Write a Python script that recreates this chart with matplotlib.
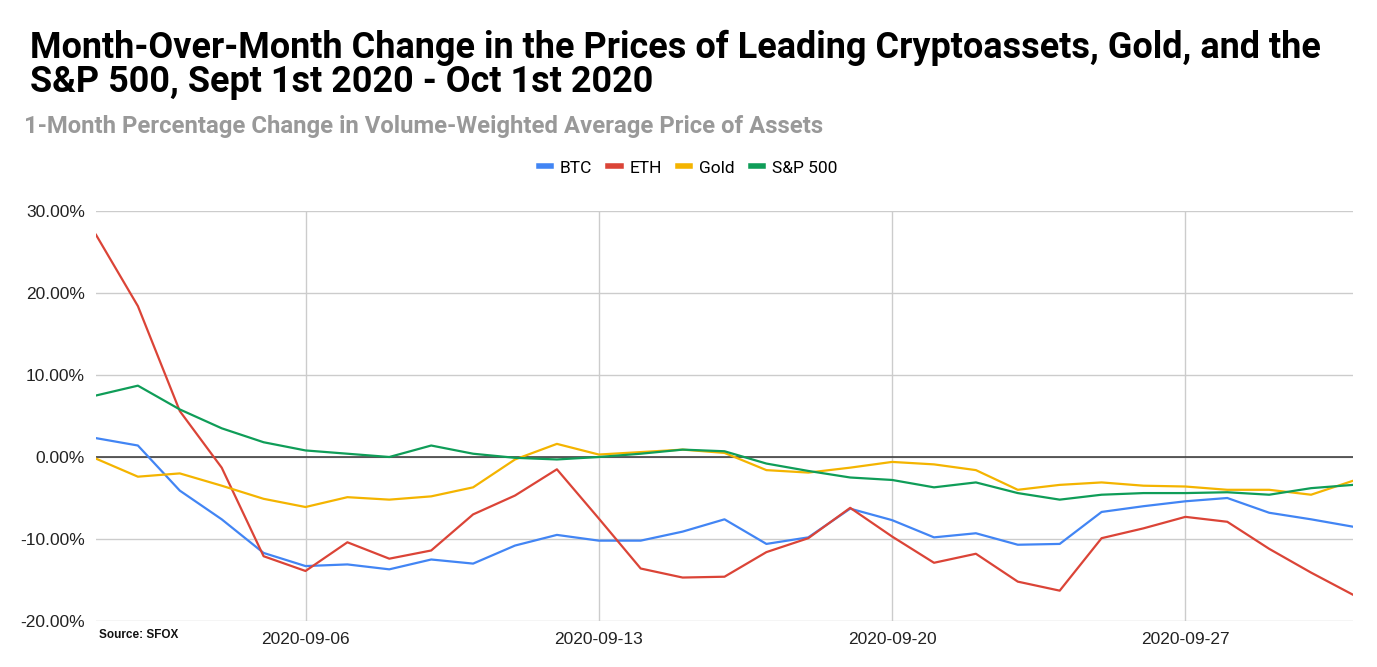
import matplotlib
matplotlib.use("Agg")
import matplotlib.pyplot as plt
import matplotlib.dates as mdates
import pandas as pd
from matplotlib.ticker import FuncFormatter, FixedLocator

dates = pd.date_range("2020-09-01", "2020-10-01", freq="D")
btc = [2.3, 1.4, -4.1, -7.6, -11.7, -13.3, -13.1, -13.7, -12.5, -13.0,
       -10.8, -9.5, -10.2, -10.2, -9.1, -7.6, -10.6, -9.8, -6.3, -7.7,
       -9.8, -9.3, -10.7, -10.6, -6.7, -6.0, -5.4, -5.0, -6.8, -7.6, -8.5]
eth = [27.1, 18.4, 5.6, -1.3, -12.1, -13.9, -10.4, -12.4, -11.4, -7.0,
       -4.7, -1.5, -7.5, -13.6, -14.7, -14.6, -11.6, -9.9, -6.2, -9.7,
       -12.9, -11.8, -15.2, -16.3, -9.9, -8.7, -7.3, -7.9, -11.2, -14.1, -16.8]
gold = [-0.2, -2.4, -2.0, -3.5, -5.1, -6.1, -4.9, -5.2, -4.8, -3.7,
        -0.3, 1.6, 0.3, 0.6, 0.9, 0.5, -1.6, -1.9, -1.3, -0.6,
        -0.9, -1.6, -4.0, -3.4, -3.1, -3.5, -3.6, -4.0, -4.0, -4.6, -2.9]
sp500 = [7.5, 8.7, 5.8, 3.5, 1.8, 0.8, 0.4, 0.0, 1.4, 0.4,
         -0.1, -0.3, 0.0, 0.4, 0.9, 0.7, -0.8, -1.7, -2.5, -2.8,
         -3.7, -3.1, -4.4, -5.2, -4.6, -4.4, -4.4, -4.3, -4.6, -3.8, -3.4]

series_names = ["BTC", "ETH", "Gold", "S&P 500"]
series_values = [btc, eth, gold, sp500]
colors = ["#4285F4", "#DB4437", "#F4B400", "#0F9D58"]
x_ticks = ["2020-09-06", "2020-09-13", "2020-09-20", "2020-09-27"]
y_ticks = [-20, -10, 0, 10, 20, 30]

W, H = 1377, 667
fig = plt.figure(figsize=(W / 100, H / 100), dpi=100)
ax = fig.add_axes([96 / W, 1 - 621 / H, (1353 - 96) / W, (621 - 211) / H])

for name, vals, c in zip(series_names, series_values, colors):
    ax.plot(dates, vals, color=c, lw=1.6, label=name, zorder=3,
            solid_joinstyle="round")

ax.set_xlim(dates[0], dates[-1])
ax.set_ylim(-20, 30)
ax.yaxis.set_major_locator(FixedLocator(y_ticks))
ax.yaxis.set_major_formatter(FuncFormatter(lambda v, p: f"{v:.2f}%"))
ax.set_xticks(pd.to_datetime(x_ticks))
ax.xaxis.set_major_formatter(mdates.DateFormatter("%Y-%m-%d"))
ax.grid(True, color="#cccccc", lw=1)
ax.set_axisbelow(True)
ax.axhline(0, color="#333333", lw=1.1, zorder=2)
for s in ax.spines.values():
    s.set_visible(False)
ax.tick_params(length=0, labelsize=12.5, colors="#222222")
ax.tick_params(axis="y", pad=8)
ax.tick_params(axis="x", pad=8)
for lab in ax.get_xticklabels() + ax.get_yticklabels():
    lab.set_family("Liberation Sans")

fig.text(30 / W, 1 - 58 / H, "Month-Over-Month Change in the Prices of Leading Cryptoassets, Gold, and the",
         family="Roboto", weight="bold", fontsize=25.9, ha="left", va="baseline")
fig.text(30 / W, 1 - 92 / H, "S&P 500, Sept 1st 2020 - Oct 1st 2020",
         family="Roboto", weight="bold", fontsize=25.9, ha="left", va="baseline")
fig.text(24 / W, 1 - 133 / H, "1-Month Percentage Change in Volume-Weighted Average Price of Assets",
         family="Roboto", weight="bold", fontsize=17.2, color="#999999", ha="left", va="baseline")
fig.text(99 / W, 1 - 638 / H, "Source: SFOX", family="Liberation Sans", weight="bold",
         fontsize=8.5, ha="left", va="baseline", color="#111111")

leg = fig.legend(loc="center", bbox_to_anchor=(688 / W, 1 - 168 / H), ncol=4, frameon=False,
                 prop={"family": "Roboto", "size": 12.5}, handlelength=0.7, handletextpad=0.5,
                 columnspacing=0.95)
for h in leg.get_lines():
    h.set_linewidth(4)

fig.savefig("out.png", dpi=100, facecolor="white")
